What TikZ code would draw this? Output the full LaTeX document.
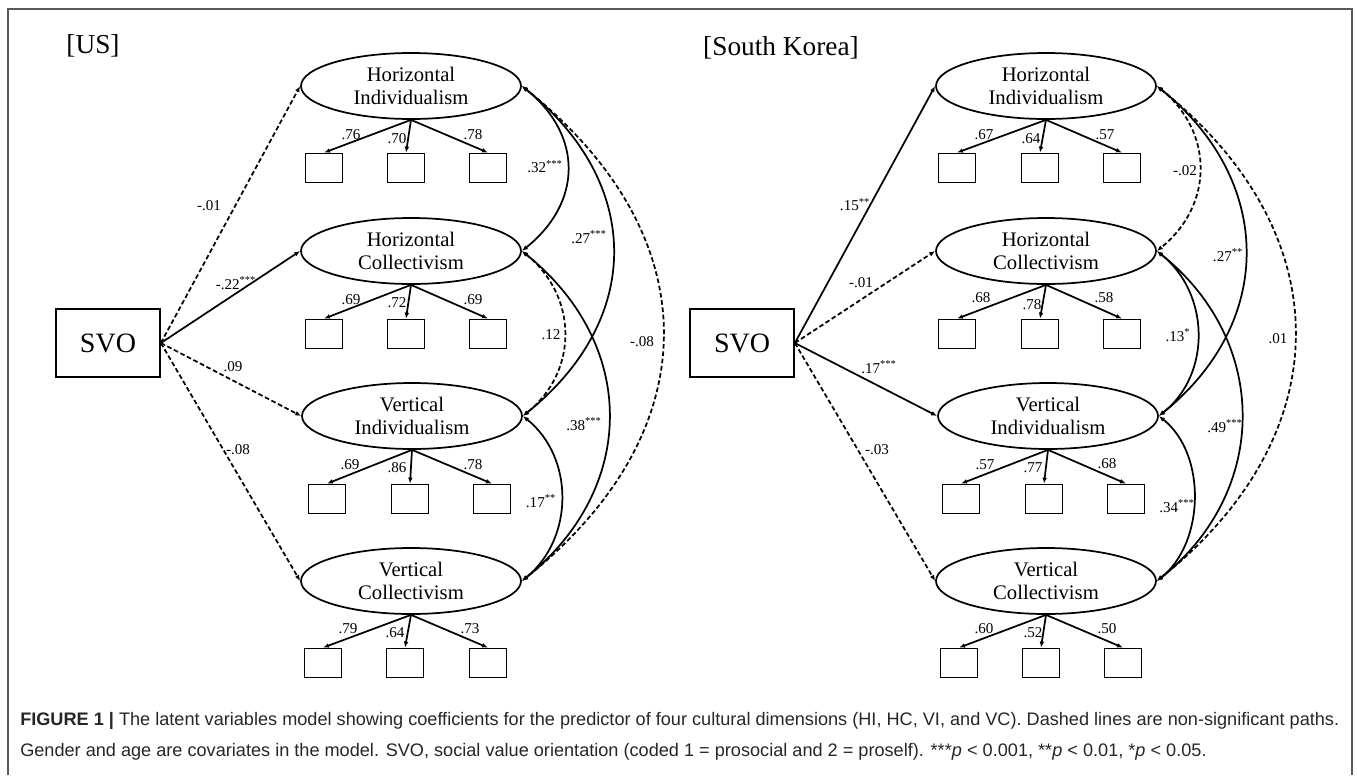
\documentclass[tikz,border=0pt]{standalone}
\usepackage{fontspec}
\setmainfont{Liberation Serif}
\newfontfamily\capfont{Liberation Sans}
\usepackage{xcolor}
\usetikzlibrary{shapes,arrows.meta}

\begin{document}
\begin{tikzpicture}[x=0.75pt,y=-0.75pt,
  latent/.style={draw, ellipse, line width=1.3pt, minimum width=165pt, minimum height=49.5pt, inner sep=0pt, align=center, font=\fontsize{15.5}{17.5}\selectfont},
  indicator/.style={draw, rectangle, line width=1.3pt, minimum width=27.75pt, minimum height=21.75pt, inner sep=0pt},
  svobox/.style={draw, rectangle, line width=1.3pt, minimum width=78pt, minimum height=51pt, font=\fontsize{21}{23}\selectfont},
  regline/.style={line width=1.3pt, -{Latex[length=4.5pt,width=3.5pt]}},
  nsline/.style={regline, dash pattern=on 3.5pt off 2pt},
  covline/.style={line width=1.3pt, {Latex[length=4.5pt,width=3.5pt]}-{Latex[length=4.5pt,width=3.5pt]}},
  nscovline/.style={covline, dash pattern=on 3.5pt off 2pt},
  coef/.style={font=\fontsize{11.3}{13}\selectfont, inner sep=0pt},
  ]
\useasboundingbox (0,0) rectangle (1357,775);

%Shape: Frame
\draw [line width=1.1pt, black!65] (8,775) -- (8,9) -- (1352,9) -- (1352,775);

% Text Node
\node [font=\fontsize{20.5}{23}\selectfont] (usTitle) at (93,46) {[US]};
% Text Node
\node [font=\fontsize{20.5}{23}\selectfont] (krTitle) at (781,48) {[South Korea]};

%%%%%%%%%%%%%%%%%%%% US %%%%%%%%%%%%%%%%%%%%

%Shape: Rectangle
\node [svobox] (usSvo) at (108,343) {SVO};

%Shape: Ellipse
\node [latent] (usHI) at (411,86) {Horizontal\\Individualism};
\node [latent] (usHC) at (411,251) {Horizontal\\Collectivism};
\node [latent] (usVI) at (412,416) {Vertical\\Individualism};
\node [latent] (usVC) at (411,581) {Vertical\\Collectivism};

%Shape: Rectangle
\node [indicator] (usHIa) at (324,168) {};
\node [indicator] (usHIb) at (406,168) {};
\node [indicator] (usHIc) at (488,168) {};
\node [indicator] (usHCa) at (324,334) {};
\node [indicator] (usHCb) at (406,334) {};
\node [indicator] (usHCc) at (488,334) {};
\node [indicator] (usVIa) at (327,499) {};
\node [indicator] (usVIb) at (410,499) {};
\node [indicator] (usVIc) at (492,499) {};
\node [indicator] (usVCa) at (323,663) {};
\node [indicator] (usVCb) at (405,663) {};
\node [indicator] (usVCc) at (488,663) {};

%Straight Lines
\draw [regline] (usHI.south) -- (usHIa.north);
\draw [regline] (usHI.south) -- (usHIb.north);
\draw [regline] (usHI.south) -- (usHIc.north);
\draw [regline] (usHC.south) -- (usHCa.north);
\draw [regline] (usHC.south) -- (usHCb.north);
\draw [regline] (usHC.south) -- (usHCc.north);
\draw [regline] (usVI.south) -- (usVIa.north);
\draw [regline] (usVI.south) -- (usVIb.north);
\draw [regline] (usVI.south) -- (usVIc.north);
\draw [regline] (usVC.south) -- (usVCa.north);
\draw [regline] (usVC.south) -- (usVCb.north);
\draw [regline] (usVC.south) -- (usVCc.north);

%Straight Lines
\draw [nsline] (usSvo.east) -- (usHI.west);
\draw [regline] (usSvo.east) -- (usHC.west);
\draw [nsline] (usSvo.east) -- (usVI.west);
\draw [nsline] (usSvo.east) -- (usVC.west);

%Curve Lines
\draw [covline] (usHI.east) .. controls +(61,49) and +(61,-49) .. (usHC.east);
\draw [covline] (usHI.east) .. controls +(121,97) and +(121,-97) .. (usVI.east);
\draw [nscovline] (usHI.east) .. controls +(188,150) and +(188,-150) .. (usVC.east);
\draw [nscovline] (usHC.east) .. controls +(56,45) and +(56,-45) .. (usVI.east);
\draw [covline] (usHC.east) .. controls +(116,93) and +(116,-93) .. (usVC.east);
\draw [covline] (usVI.east) .. controls +(52,42) and +(52,-42) .. (usVC.east);

% Text Node
\node [coef] (usL1) at (351,135) {.76};
\node [coef] (usL2) at (397,139) {.70};
\node [coef] (usL3) at (473,135) {.78};
\node [coef] (usL4) at (351,300) {.69};
\node [coef] (usL5) at (397,303) {.72};
\node [coef] (usL6) at (473,300) {.69};
\node [coef] (usL7) at (350,465) {.69};
\node [coef] (usL8) at (397,468) {.86};
\node [coef] (usL9) at (473,465) {.78};
\node [coef] (usL10) at (348,629) {.79};
\node [coef] (usL11) at (395,633) {.64};
\node [coef] (usL12) at (470,629) {.73};
% Text Node
\node [coef] (usB1) at (209,206) {-.01};
\node [coef] (usB2) at (236,283) {-.22\textsuperscript{***}};
\node [coef] (usB3) at (233,367) {.09};
\node [coef] (usB4) at (238,450) {-.08};
% Text Node
\node [coef] (usR1) at (545,167) {.32\textsuperscript{***}};
\node [coef] (usR2) at (589,237) {.27\textsuperscript{***}};
\node [coef] (usR3) at (551,335) {.12};
\node [coef] (usR4) at (642,342) {-.08};
\node [coef] (usR5) at (584,424) {.38\textsuperscript{***}};
\node [coef] (usR6) at (541,501) {.17\textsuperscript{**}};

%%%%%%%%%%%%%%%%%%%% South Korea %%%%%%%%%%%%%%%%%%%%

%Shape: Rectangle
\node [svobox] (krSvo) at (742,343) {SVO};

%Shape: Ellipse
\node [latent] (krHI) at (1046,86) {Horizontal\\Individualism};
\node [latent] (krHC) at (1046,251) {Horizontal\\Collectivism};
\node [latent] (krVI) at (1048,416) {Vertical\\Individualism};
\node [latent] (krVC) at (1046,581) {Vertical\\Collectivism};

%Shape: Rectangle
\node [indicator] (krHIa) at (957,168) {};
\node [indicator] (krHIb) at (1040,168) {};
\node [indicator] (krHIc) at (1122,168) {};
\node [indicator] (krHCa) at (957,334) {};
\node [indicator] (krHCb) at (1040,334) {};
\node [indicator] (krHCc) at (1122,334) {};
\node [indicator] (krVIa) at (961,499) {};
\node [indicator] (krVIb) at (1044,499) {};
\node [indicator] (krVIc) at (1126,499) {};
\node [indicator] (krVCa) at (959,663) {};
\node [indicator] (krVCb) at (1041,663) {};
\node [indicator] (krVCc) at (1123,663) {};

%Straight Lines
\draw [regline] (krHI.south) -- (krHIa.north);
\draw [regline] (krHI.south) -- (krHIb.north);
\draw [regline] (krHI.south) -- (krHIc.north);
\draw [regline] (krHC.south) -- (krHCa.north);
\draw [regline] (krHC.south) -- (krHCb.north);
\draw [regline] (krHC.south) -- (krHCc.north);
\draw [regline] (krVI.south) -- (krVIa.north);
\draw [regline] (krVI.south) -- (krVIb.north);
\draw [regline] (krVI.south) -- (krVIc.north);
\draw [regline] (krVC.south) -- (krVCa.north);
\draw [regline] (krVC.south) -- (krVCb.north);
\draw [regline] (krVC.south) -- (krVCc.north);

%Straight Lines
\draw [regline] (krSvo.east) -- (krHI.west);
\draw [nsline] (krSvo.east) -- (krHC.west);
\draw [regline] (krSvo.east) -- (krVI.west);
\draw [nsline] (krSvo.east) -- (krVC.west);

%Curve Lines
\draw [nscovline] (krHI.east) .. controls +(57,46) and +(57,-46) .. (krHC.east);
\draw [covline] (krHI.east) .. controls +(117,94) and +(117,-94) .. (krVI.east);
\draw [nscovline] (krHI.east) .. controls +(184,147) and +(184,-147) .. (krVC.east);
\draw [covline] (krHC.east) .. controls +(53,42) and +(53,-42) .. (krVI.east);
\draw [covline] (krHC.east) .. controls +(113,90) and +(113,-90) .. (krVC.east);
\draw [covline] (krVI.east) .. controls +(48,38) and +(48,-38) .. (krVC.east);

% Text Node
\node [coef] (krL1) at (984,135) {.67};
\node [coef] (krL2) at (1031,139) {.64};
\node [coef] (krL3) at (1105,135) {.57};
\node [coef] (krL4) at (981,298) {.68};
\node [coef] (krL5) at (1032,305) {.78};
\node [coef] (krL6) at (1104,298) {.58};
\node [coef] (krL7) at (985,465) {.57};
\node [coef] (krL8) at (1033,468) {.77};
\node [coef] (krL9) at (1107,464) {.68};
\node [coef] (krL10) at (984,629) {.60};
\node [coef] (krL11) at (1033,633) {.52};
\node [coef] (krL12) at (1107,629) {.50};
% Text Node
\node [coef] (krB1) at (855,205) {.15\textsuperscript{**}};
\node [coef] (krB2) at (861,283) {-.01};
\node [coef] (krB3) at (879,367) {.17\textsuperscript{***}};
\node [coef] (krB4) at (877,450) {-.03};
% Text Node
\node [coef] (krR1) at (1185,171) {-.02};
\node [coef] (krR2) at (1228,255) {.27\textsuperscript{**}};
\node [coef] (krR3) at (1278,339) {.01};
\node [coef] (krR4) at (1178,335) {.13\textsuperscript{*}};
\node [coef] (krR5) at (1225,426) {.49\textsuperscript{***}};
\node [coef] (krR6) at (1177,506) {.34\textsuperscript{***}};

%%%%%%%%%%%%%%%%%%%% Caption %%%%%%%%%%%%%%%%%%%%
% Text Node
\node [anchor=base west, inner sep=0pt, text=black!85, font=\capfont\fontsize{13.6}{16}\selectfont] (capA) at (20,725) {\textbf{FIGURE 1 |} The latent variables model showing coefficients for the predictor of four cultural dimensions (HI, HC, VI, and VC). Dashed lines are non-significant paths.};
% Text Node
\node [anchor=base west, inner sep=0pt, text=black!85, font=\capfont\fontsize{13.6}{16}\selectfont] (capB) at (20,756) {Gender and age are covariates in the model. SVO, social value orientation (coded 1 = prosocial and 2 = proself). ***\textit{p} < 0.001, **\textit{p} < 0.01, *\textit{p} < 0.05.};

\end{tikzpicture}
\end{document}
